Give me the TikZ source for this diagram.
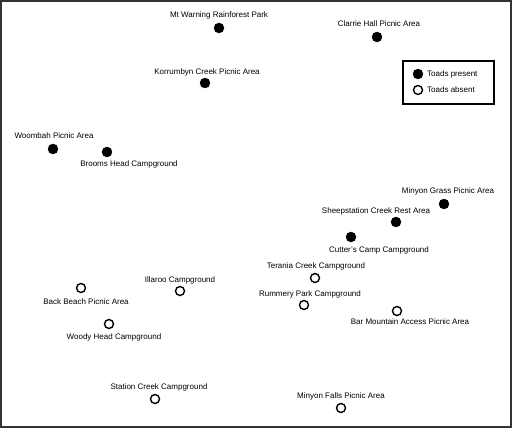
\documentclass[tikz,border=0pt]{standalone}
\usepackage{fontspec}
\setmainfont{Liberation Sans}
\tikzset{
  yes/.style={circle, black, draw, fill = black, inner sep=0pt, minimum size=10pt},
  no/.style={circle, black, draw, fill = white, line width=1.4pt, inner sep=0pt, minimum size=9pt},
  lab/.style={font=\fontsize{8}{9}\selectfont, inner sep=0pt}
}
\begin{document}
\begin{tikzpicture}[x=1pt, y=-1pt]
\useasboundingbox (0,0) rectangle (512,428);
\draw[line width=2pt, black!80] (1,1) rectangle (511,427);

% toads present
\draw
(219, 28) node[yes](mtw){}
(377, 37) node[yes](clh){}
(205, 83) node[yes](kor){}
(53, 149) node[yes](woo){}
(107, 152) node[yes](brh){}
(444, 204) node[yes](mgr){}
(396, 222) node[yes](shc){}
(351, 237) node[yes](cut){};

% toads absent
\draw
(315, 278) node[no](ter){}
(304, 305) node[no](rum){}
(397, 311) node[no](bar){}
(341, 408) node[no](mfa){}
(81, 288) node[no](bbe){}
(180, 291) node[no](ill){}
(109, 324) node[no](wdh){}
(155, 399) node[no](stc){};

% names
\draw
(219, 15) node[lab](mtwl){Mt Warning Rainforest Park}
(379, 24) node[lab](clhl){Clarrie Hall Picnic Area}
(207, 72) node[lab](korl){Korrumbyn Creek Picnic Area}
(54, 136) node[lab](wool){Woombah Picnic Area}
(129, 164) node[lab](brhl){Brooms Head Campground}
(448, 191) node[lab](mgrl){Minyon Grass Picnic Area}
(376, 211) node[lab](shcl){Sheepstation Creek Rest Area}
(379, 250) node[lab](cutl){Cutter's Camp Campground}
(316, 266) node[lab](terl){Terania Creek Campground}
(310, 294) node[lab](ruml){Rummery Park Campground}
(410, 322) node[lab](barl){Bar Mountain Access Picnic Area}
(341, 396) node[lab](mfal){Minyon Falls Picnic Area}
(86, 302) node[lab](bbel){Back Beach Picnic Area}
(180, 280) node[lab](illl){Illaroo Campground}
(114, 337) node[lab](wdhl){Woody Head Campground}
(159, 387) node[lab](stcl){Station Creek Campground};

% legend
\draw[line width=1.4pt] (403, 61) rectangle (494, 104);
\draw
(418, 74) node[yes](kyes){}
(418, 90) node[no](kno){}
(427, 74) node[lab, anchor=west](kyesl){Toads present}
(427, 90) node[lab, anchor=west](knol){Toads absent};

\end{tikzpicture}
\end{document}
